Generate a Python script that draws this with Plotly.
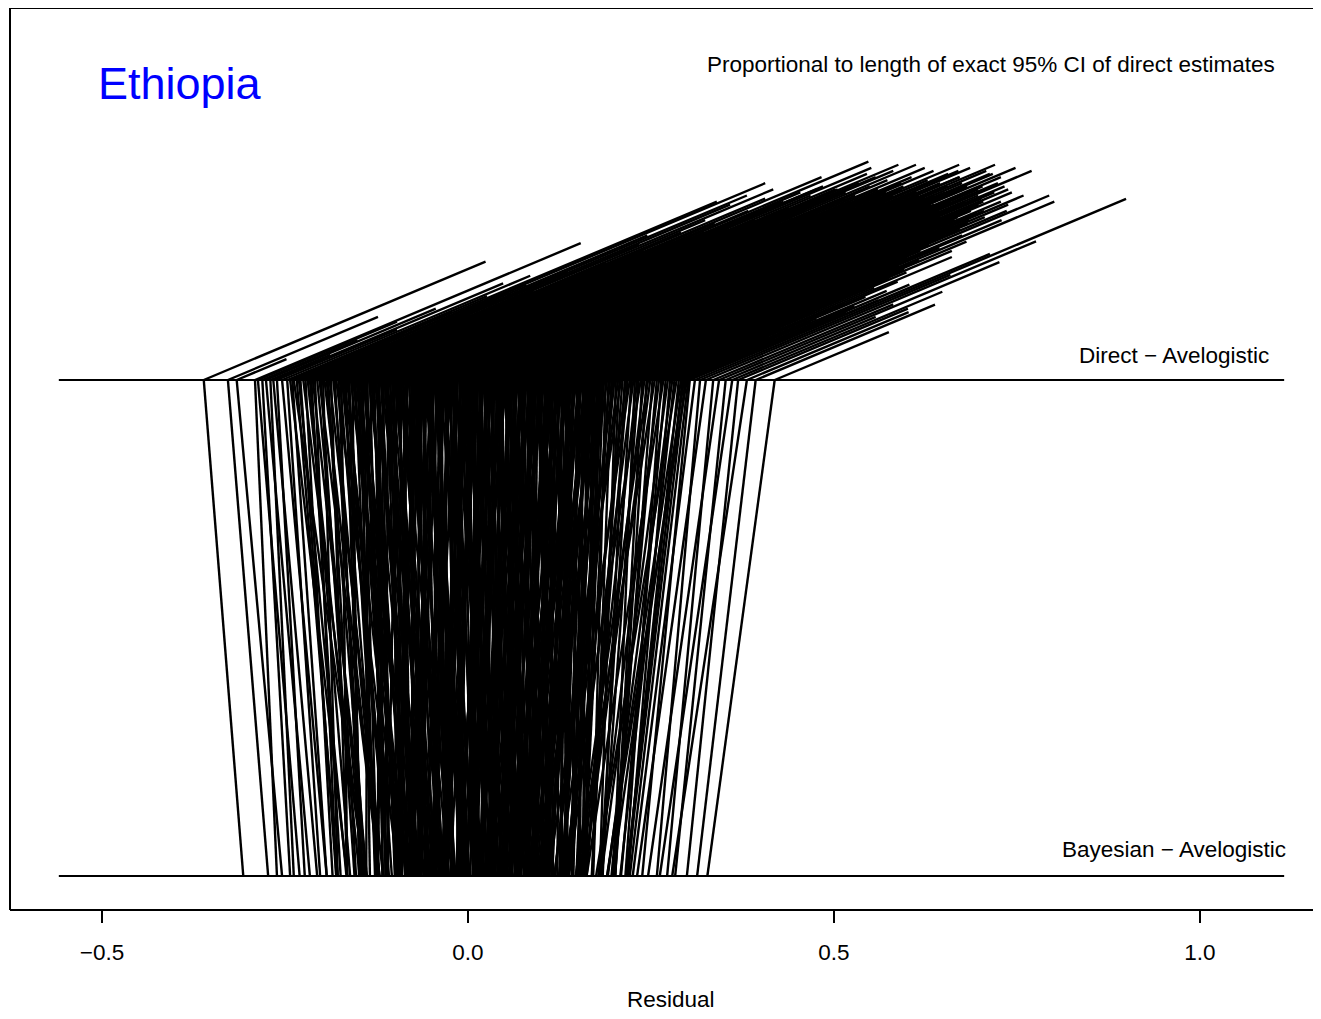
import plotly.graph_objects as go

# ---------------- data (read/estimated from the reference) ----------------
# Residual of direct estimate (top line), Bayesian estimate (bottom line)
# and length of exact 95% CI of the direct estimate, one entry per area.
direct_resid = [
    -0.361, -0.328, -0.316, -0.291, -0.287, -0.281, -0.276, -0.270, -0.266, -0.261, -0.254, -0.247,
    -0.243, -0.240, -0.238, -0.234, -0.231, -0.229, -0.225, -0.222, -0.219, -0.216,
    -0.214, -0.212, -0.209, -0.206, -0.203, -0.201, -0.198, -0.196, -0.193, -0.191,
    -0.189, -0.187, -0.184, -0.182, -0.180, -0.177, -0.175, -0.173, -0.171, -0.169,
    -0.167, -0.165, -0.163, -0.160, -0.158, -0.156, -0.154, -0.152, -0.150, -0.149,
    -0.147, -0.145, -0.143, -0.141, -0.139, -0.137, -0.135, -0.134, -0.132, -0.130,
    -0.128, -0.127, -0.125, -0.123, -0.121, -0.119, -0.118, -0.116, -0.114, -0.112,
    -0.111, -0.109, -0.107, -0.106, -0.104, -0.102, -0.101, -0.099, -0.097, -0.096,
    -0.094, -0.093, -0.091, -0.089, -0.088, -0.086, -0.085, -0.083, -0.081, -0.080,
    -0.078, -0.077, -0.075, -0.074, -0.072, -0.071, -0.069, -0.068, -0.066, -0.065,
    -0.063, -0.062, -0.060, -0.059, -0.057, -0.056, -0.054, -0.053, -0.051, -0.050,
    -0.049, -0.047, -0.046, -0.044, -0.043, -0.041, -0.040, -0.039, -0.037, -0.036,
    -0.035, -0.033, -0.032, -0.030, -0.029, -0.028, -0.026, -0.025, -0.023, -0.022,
    -0.021, -0.019, -0.018, -0.016, -0.015, -0.014, -0.012, -0.011, -0.009, -0.008,
    -0.007, -0.005, -0.004, -0.002, -0.001, 0.001, 0.002, 0.003, 0.005, 0.006,
    0.007, 0.009, 0.010, 0.012, 0.013, 0.014, 0.016, 0.017, 0.019, 0.020,
    0.021, 0.023, 0.024, 0.026, 0.027, 0.028, 0.030, 0.031, 0.033, 0.034,
    0.035, 0.037, 0.038, 0.040, 0.041, 0.042, 0.044, 0.045, 0.047, 0.048,
    0.049, 0.051, 0.052, 0.054, 0.055, 0.056, 0.058, 0.059, 0.061, 0.062,
    0.063, 0.065, 0.066, 0.068, 0.069, 0.071, 0.072, 0.074, 0.075, 0.077,
    0.078, 0.080, 0.081, 0.083, 0.084, 0.086, 0.087, 0.089, 0.090, 0.092,
    0.093, 0.095, 0.097, 0.098, 0.100, 0.102, 0.103, 0.105, 0.106, 0.108,
    0.110, 0.111, 0.113, 0.115, 0.116, 0.118, 0.120, 0.121, 0.123, 0.124,
    0.126, 0.128, 0.129, 0.131, 0.133, 0.134, 0.136, 0.138, 0.139, 0.141,
    0.143, 0.145, 0.146, 0.148, 0.150, 0.152, 0.153, 0.155, 0.157, 0.159,
    0.161, 0.163, 0.164, 0.166, 0.168, 0.170, 0.172, 0.174, 0.176, 0.178,
    0.180, 0.182, 0.184, 0.186, 0.188, 0.190, 0.192, 0.194, 0.196, 0.198,
    0.200, 0.202, 0.205, 0.207, 0.209, 0.211, 0.214, 0.216, 0.218, 0.221,
    0.223, 0.226, 0.228, 0.231, 0.233, 0.236, 0.238, 0.241, 0.244, 0.246,
    0.249, 0.252, 0.255, 0.258, 0.261, 0.264, 0.267, 0.270, 0.273, 0.276,
    0.279, 0.282, 0.285, 0.288, 0.291, 0.293, 0.295, 0.297, 0.299, 0.301,
    0.303, 0.310, 0.317, 0.325, 0.335, 0.343, 0.352, 0.361, 0.369, 0.381, 0.393, 0.419,
    -0.157, -0.144, -0.131, -0.122, -0.110, -0.103, -0.092, -0.084, -0.076, -0.067,
    -0.061, -0.055, -0.048, -0.042, -0.038, -0.031, -0.027, -0.020, -0.017, -0.010,
    -0.006, -0.003, 0.000, 0.004, 0.008, 0.011, 0.015, 0.018, 0.022, 0.025,
    0.029, 0.032, 0.036, 0.039, 0.043, 0.046, 0.050, 0.053, 0.057, 0.060,
    0.064, 0.067, 0.070, 0.073, 0.076, 0.079, 0.082, 0.085, 0.088, 0.091,
    0.094, 0.096, 0.099, 0.101, 0.104, 0.107, 0.109, 0.112, 0.114, 0.117,
    0.119, 0.122, 0.125, 0.127, 0.130, 0.132, 0.135, 0.137, 0.140, 0.142,
    0.144, 0.147, 0.149, 0.151, 0.154, 0.156, 0.158, 0.160, 0.162, 0.165,
    0.167, 0.169, 0.171, 0.173, 0.175, 0.177, 0.179, 0.181, 0.183, 0.185,
    -0.172, -0.162, -0.152, -0.140, -0.126, -0.115, -0.100, -0.088, -0.073, -0.058,
]

bayes_resid = [
    -0.307, -0.273, -0.254, -0.261, -0.230, -0.243, -0.216, -0.238, -0.206, -0.223, -0.193, -0.202,
    -0.165, -0.193, -0.141, -0.178, -0.166, -0.180, -0.142, -0.185, -0.148, -0.161,
    -0.174, -0.138, -0.180, -0.143, -0.121, -0.155, -0.178, -0.121, -0.139, -0.153,
    -0.116, -0.165, -0.122, -0.141, -0.095, -0.147, -0.121, -0.165, -0.108, -0.092,
    -0.145, -0.109, -0.122, -0.085, -0.149, -0.092, -0.126, -0.104, -0.068, -0.127,
    -0.091, -0.134, -0.078, -0.112, -0.095, -0.139, -0.067, -0.116, -0.085, -0.099,
    -0.112, -0.056, -0.100, -0.069, -0.117, -0.081, -0.045, -0.109, -0.067, -0.086,
    -0.070, -0.113, -0.052, -0.091, -0.045, -0.078, -0.098, -0.051, -0.110, -0.064,
    -0.078, -0.037, -0.096, -0.049, -0.083, -0.022, -0.061, -0.095, -0.033, -0.073,
    -0.036, -0.075, -0.019, -0.093, -0.047, -0.026, -0.080, -0.039, -0.058, -0.017,
    -0.075, -0.035, -0.058, -0.002, -0.066, -0.020, -0.044, -0.008, -0.077, -0.021,
    -0.030, -0.064, -0.003, -0.047, -0.011, -0.070, -0.019, -0.048, 0.008, -0.031,
    -0.045, 0.001, -0.058, -0.012, -0.031, 0.020, -0.044, -0.003, -0.022, 0.014,
    0.015, -0.029, -0.003, -0.052, 0.009, -0.035, 0.026, -0.013, -0.036, 0.009,
    -0.015, 0.026, -0.028, 0.014, -0.036, 0.041, -0.014, 0.007, -0.016, 0.029,
    0.025, -0.024, 0.042, -0.001, 0.014, -0.030, 0.037, -0.008, 0.024, -0.001,
    -0.010, 0.032, 0.012, 0.059, -0.011, 0.030, 0.007, 0.052, -0.016, 0.044,
    0.035, -0.008, 0.052, 0.019, 0.065, 0.010, 0.037, 0.002, 0.054, 0.030,
    0.020, 0.067, -0.003, 0.059, 0.030, 0.080, 0.017, 0.052, 0.014, 0.060,
    0.070, 0.027, 0.053, 0.014, 0.080, 0.041, 0.092, 0.028, 0.069, 0.015,
    0.066, 0.028, 0.093, 0.045, 0.080, 0.022, 0.068, 0.094, 0.045, 0.081,
    0.032, 0.088, 0.060, 0.111, 0.047, 0.083, 0.034, 0.101, 0.071, 0.108,
    0.094, 0.050, 0.116, 0.063, 0.089, 0.045, 0.111, 0.077, 0.129, 0.064,
    0.081, 0.122, 0.058, 0.109, 0.076, 0.136, 0.068, 0.104, 0.125, 0.087,
    0.133, 0.079, 0.115, 0.067, 0.143, 0.104, 0.130, 0.082, 0.153, 0.099,
    0.096, 0.132, 0.083, 0.150, 0.111, 0.162, 0.099, 0.130, 0.087, 0.148,
    0.155, 0.101, 0.142, 0.119, 0.170, 0.097, 0.158, 0.135, 0.171, 0.118,
    0.134, 0.180, 0.118, 0.169, 0.110, 0.162, 0.184, 0.136, 0.162, 0.124,
    0.181, 0.138, 0.199, 0.156, 0.183, 0.130, 0.201, 0.159, 0.201, 0.147,
    0.159, 0.201, 0.149, 0.196, 0.178, 0.215, 0.162, 0.209, 0.182, 0.219,
    0.191, 0.208, 0.175, 0.217, 0.190, 0.216, 0.197, 0.217, 0.190, 0.221,
    0.238, 0.225, 0.258, 0.231, 0.272, 0.246, 0.283, 0.262, 0.299, 0.279, 0.313, 0.327,
    -0.083, -0.124, -0.084, -0.123, -0.054, -0.084, -0.026, -0.090, -0.040, -0.068,
    -0.059, -0.005, -0.075, -0.010, -0.032, 0.008, -0.049, -0.004, 0.028, -0.032,
    0.016, -0.032, 0.035, -0.012, 0.011, -0.032, 0.036, 0.003, 0.046, -0.002,
    -0.014, 0.038, 0.016, 0.068, 0.006, 0.053, -0.004, 0.068, 0.036, 0.053,
    0.076, 0.023, 0.060, 0.013, 0.090, 0.042, 0.079, 0.031, 0.103, 0.056,
    0.048, 0.109, 0.041, 0.088, 0.035, 0.102, 0.068, 0.116, 0.057, 0.089,
    0.111, 0.053, 0.105, 0.071, 0.134, 0.085, 0.127, 0.059, 0.106, 0.077,
    0.114, 0.076, 0.142, 0.094, 0.131, 0.072, 0.144, 0.110, 0.157, 0.099,
    0.090, 0.142, 0.108, 0.160, 0.086, 0.137, 0.109, 0.160, 0.127, 0.158,
    -0.109, -0.147, -0.074, -0.111, -0.071, -0.123, -0.042, -0.078, -0.078, -0.002,
]

ci_length = [
    0.385, 0.205, 0.068, 0.445, 0.190, 0.130, 0.232, 0.082, 0.314, 0.164, 0.339, 0.273,
    0.22, 0.58, 0.15, 0.64, 0.31, 0.12, 0.47, 0.26, 0.60, 0.18,
    0.35, 0.57, 0.21, 0.44, 0.62, 0.29, 0.16, 0.52, 0.38, 0.25,
    0.48, 0.33, 0.59, 0.24, 0.42, 0.66, 0.30, 0.51, 0.19, 0.45,
    0.55, 0.37, 0.71, 0.28, 0.46, 0.61, 0.34, 0.50, 0.40, 0.58,
    0.43, 0.63, 0.32, 0.54, 0.69, 0.27, 0.49, 0.39, 0.60, 0.36,
    0.52, 0.41, 0.67, 0.30, 0.56, 0.45, 0.62, 0.35, 0.50, 0.70,
    0.38, 0.59, 0.47, 0.64, 0.29, 0.53, 0.42, 0.68, 0.33, 0.57,
    0.61, 0.44, 0.36, 0.55, 0.70, 0.40, 0.51, 0.31, 0.63, 0.48,
    0.46, 0.65, 0.39, 0.57, 0.34, 0.60, 0.50, 0.43, 0.69, 0.37,
    0.54, 0.32, 0.62, 0.47, 0.58, 0.41, 0.66, 0.38, 0.52, 0.60,
    0.40, 0.57, 0.49, 0.68, 0.35, 0.53, 0.44, 0.61, 0.30, 0.55,
    0.63, 0.42, 0.56, 0.37, 0.70, 0.48, 0.59, 0.33, 0.51, 0.65,
    0.45, 0.60, 0.38, 0.54, 0.47, 0.67, 0.41, 0.58, 0.50, 0.36,
    0.56, 0.43, 0.69, 0.49, 0.34, 0.61, 0.52, 0.40, 0.64, 0.46,
    0.39, 0.58, 0.47, 0.66, 0.53, 0.36, 0.60, 0.44, 0.55, 0.70,
    0.50, 0.37, 0.62, 0.45, 0.57, 0.68, 0.41, 0.54, 0.33, 0.59,
    0.64, 0.48, 0.40, 0.56, 0.46, 0.61, 0.35, 0.52, 0.67, 0.43,
    0.38, 0.55, 0.63, 0.42, 0.59, 0.49, 0.69, 0.36, 0.53, 0.45,
    0.57, 0.44, 0.51, 0.66, 0.39, 0.60, 0.47, 0.55, 0.34, 0.62,
    0.46, 0.58, 0.37, 0.53, 0.64, 0.41, 0.56, 0.49, 0.68, 0.40,
    0.52, 0.35, 0.60, 0.45, 0.57, 0.38, 0.63, 0.48, 0.42, 0.55,
    0.40, 0.59, 0.33, 0.51, 0.46, 0.62, 0.37, 0.54, 0.44, 0.58,
    0.47, 0.36, 0.56, 0.42, 0.61, 0.31, 0.50, 0.39, 0.53, 0.45,
    0.34, 0.52, 0.43, 0.58, 0.38, 0.48, 0.29, 0.55, 0.41, 0.60,
    0.45, 0.32, 0.50, 0.39, 0.57, 0.27, 0.46, 0.36, 0.53, 0.41,
    0.30, 0.49, 0.38, 0.55, 0.26, 0.44, 0.35, 0.60, 0.33, 0.42,
    0.40, 0.28, 0.47, 0.34, 0.52, 0.24, 0.43, 0.31, 0.37, 0.58,
    0.26, 0.39, 0.21, 0.45, 0.30, 0.36, 0.18, 0.42, 0.28, 0.33,
    0.35, 0.22, 0.30, 0.17, 0.40, 0.25, 0.32, 0.14, 0.27, 0.20,
    0.19, 0.29, 0.13, 0.24, 0.16, 0.31, 0.11, 0.22, 0.15, 0.26,
    0.410, 0.589, 0.342, 0.451, 0.246, 0.383, 0.205, 0.287, 0.232, 0.221, 0.245, 0.156,
    0.48, 0.62, 0.39, 0.55, 0.44, 0.66, 0.51, 0.36, 0.59, 0.47,
    0.53, 0.41, 0.64, 0.46, 0.57, 0.38, 0.62, 0.50, 0.43, 0.68,
    0.45, 0.58, 0.35, 0.61, 0.49, 0.66, 0.40, 0.54, 0.47, 0.63,
    0.52, 0.39, 0.60, 0.44, 0.67, 0.48, 0.56, 0.37, 0.62, 0.50,
    0.42, 0.57, 0.46, 0.63, 0.38, 0.54, 0.49, 0.60, 0.35, 0.51,
    0.55, 0.40, 0.58, 0.34, 0.50, 0.45, 0.61, 0.39, 0.53, 0.43,
    0.37, 0.52, 0.44, 0.57, 0.32, 0.49, 0.41, 0.55, 0.36, 0.47,
    0.50, 0.33, 0.46, 0.40, 0.54, 0.30, 0.43, 0.48, 0.35, 0.52,
    0.31, 0.45, 0.38, 0.51, 0.28, 0.42, 0.35, 0.47, 0.26, 0.40,
    0.40, 0.27, 0.58, 0.45, 0.35, 0.62, 0.42, 0.53, 0.38, 0.49,
]

tick_vals = [-0.5, 0.0, 0.5, 1.0]
tick_text = ["\u22120.5", "0.0", "0.5", "1.0"]

# ---------------- geometry / styling constants ----------------
Y_DIRECT = 1.0
Y_BAYES = 0.0
RISE = 0.62          # vertical rise (y units) per unit of CI length
BASE_X = (-0.559, 1.115)
FONT = "Liberation Sans, Arial, sans-serif"
FS = 22.5
LW = 2.4

# ---------------- build line traces ----------------
link_x, link_y = [], []
for b, d in zip(bayes_resid, direct_resid):
    link_x += [b, d, None]
    link_y += [Y_BAYES, Y_DIRECT, None]

ci_x, ci_y = [], []
for d, L in zip(direct_resid, ci_length):
    ci_x += [d, d + L, None]
    ci_y += [Y_DIRECT, Y_DIRECT + RISE * L, None]

fig = go.Figure()
for yb in (Y_DIRECT, Y_BAYES):
    fig.add_trace(go.Scatter(x=list(BASE_X), y=[yb, yb], mode="lines",
                             line=dict(color="black", width=2), hoverinfo="skip",
                             showlegend=False))
fig.add_trace(go.Scatter(x=link_x, y=link_y, mode="lines",
                         line=dict(color="black", width=LW), hoverinfo="skip",
                         showlegend=False))
fig.add_trace(go.Scatter(x=ci_x, y=ci_y, mode="lines",
                         line=dict(color="black", width=LW), hoverinfo="skip",
                         showlegend=False))

fig.update_layout(
    width=1305, height=1003,
    margin=dict(l=2, r=0, t=0, b=101),
    paper_bgcolor="white", plot_bgcolor="white",
    showlegend=False,
    font=dict(family=FONT, color="black", size=FS),
    xaxis=dict(range=[-0.6257, 1.1544], tickvals=tick_vals, ticktext=tick_text,
               ticks="outside", ticklen=12, tickwidth=1.5, tickcolor="black",
               ticklabelstandoff=10,
               showgrid=False, zeroline=False, showline=False,
               tickfont=dict(family=FONT, size=FS, color="black")),
    yaxis=dict(range=[-0.0685, 1.750], showticklabels=False, ticks="",
               showgrid=False, zeroline=False, showline=False),
    shapes=[
        dict(type="line", xref="paper", yref="paper", x0=0, x1=1.01, y0=0, y1=0,
             line=dict(color="black", width=2)),
        dict(type="line", xref="paper", yref="paper", x0=0, x1=1.01, y0=1, y1=1,
             line=dict(color="black", width=2)),
        dict(type="line", xref="paper", yref="paper", x0=0, x1=0, y0=0, y1=1,
             line=dict(color="black", width=2)),
    ],
    annotations=[
        dict(text="Ethiopia", x=-0.394, y=1.597, xref="x", yref="y", showarrow=False,
             xanchor="center", yanchor="middle",
             font=dict(family=FONT, size=45, color="#0000FF")),
        dict(text="Proportional to length of exact 95% CI of direct estimates",
             x=0.715, y=1.637, xref="x", yref="y", showarrow=False,
             xanchor="center", yanchor="middle", font=dict(family=FONT, size=FS)),
        dict(text="Direct \u2212 Avelogistic", x=0.965, y=1.050, xref="x", yref="y",
             showarrow=False, xanchor="center", yanchor="middle",
             font=dict(family=FONT, size=FS)),
        dict(text="Bayesian \u2212 Avelogistic", x=0.965, y=0.054, xref="x", yref="y",
             showarrow=False, xanchor="center", yanchor="middle",
             font=dict(family=FONT, size=FS)),
        dict(text="Residual", x=0.277, y=-0.099, xref="x", yref="paper",
             showarrow=False, xanchor="center", yanchor="middle",
             font=dict(family=FONT, size=FS)),
    ],
)

fig.write_html("out.html")
